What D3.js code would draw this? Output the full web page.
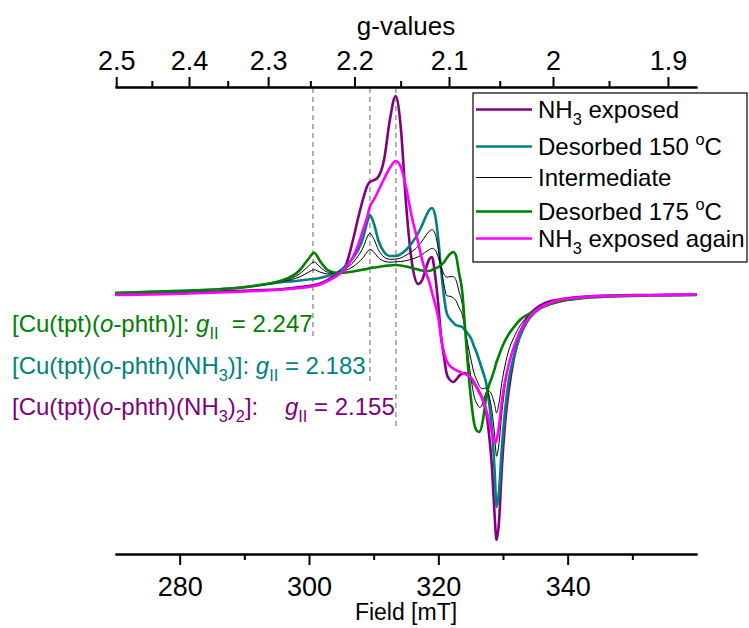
<!DOCTYPE html>
<html><head><meta charset="utf-8">
<script src="https://cdn.jsdelivr.net/npm/d3@7/dist/d3.min.js"></script>
<style>
body{margin:0;background:#fff;}
svg{font-family:Arial,"Liberation Sans",sans-serif;display:block;}
</style></head><body>
<svg id="chart" width="749" height="628"></svg>
<script>
// ---------- DATA ----------
const fields = [270, 279.3, 288.3, 296, 298.6, 299.9, 300.8, 301.7, 302.9, 304.5, 305.7, 306.8, 307.6, 308.4, 309, 309.4, 310.1, 310.7, 311.6, 312.5, 313.4, 314.2, 315, 315.9, 316.9, 317.5, 318.1, 318.6, 319, 319.5, 320, 320.4, 320.9, 321.3, 321.8, 322.3, 322.7, 323.2, 323.7, 324.1, 324.6, 325.1, 325.5, 326, 326.4, 326.9, 327.4, 327.8, 328.3, 328.7, 329, 329.4, 329.8, 330.3, 330.9, 331.7, 332.6, 333.7, 335, 336.5, 338.8, 341.9, 346.5, 352.7, 360];

const nh3Exposed = [1, 2, 4, 6, 8, 9, 10, 11.5, 15, 22, 30, 55, 77, 97, 109, 113, 115, 118, 135, 175, 199, 167, 92, 33, 11, 15, 27, 36, 38, 20, -10, -40, -63, -79, -85, -87, -85, -81, -78.5, -78, -80, -84, -88, -93, -98, -105, -117, -137, -173, -220, -245, -225, -175, -130, -95, -63, -40, -23, -14, -8, -4.5, -2, -0.5, 0, 0.5];

const desorbed150 = [2, 4, 6.7, 13, 14.5, 15.5, 16, 17, 19, 23, 29, 37, 45, 58, 73, 80, 70, 55, 43, 39, 39, 41, 45, 52, 62, 70, 79, 85, 87, 80, 55, 27, -3, -18, -24, -27.5, -30, -31, -32, -35, -39, -44, -51, -59, -67, -77, -88, -105, -135, -175, -212, -195, -155, -117, -85, -61, -42, -27, -17, -10.5, -6, -3, -1, -0.3, 0.3];

const intermediateA = [2, 4, 6.7, 14.3, 21.3, 28.8, 33.1, 28, 22.9, 22.4, 24.8, 28.2, 32.4, 37.6, 43.2, 45.6, 42.4, 37.5, 33.9, 32.8, 33.2, 33.5, 34.3, 35.8, 38.3, 40.4, 43.3, 45.4, 46.7, 45.2, 37.5, 29, 20.4, 17.8, 18.3, 18.3, 15.5, 3.5, -9.3, -31.8, -61.1, -85, -100.4, -109, -112.5, -108.2, -97.1, -95.9, -100.6, -109.4, -117.8, -107.3, -88.7, -70.9, -55.1, -42.2, -31, -22.5, -16, -10.8, -6.3, -3.3, -1.3, -0.4, 0.1];

const intermediateB = [2, 4, 6.7, 13.7, 18.2, 22.7, 25.2, 23, 21.1, 22.7, 26.7, 32.3, 39.1, 47.9, 57.9, 61.6, 55.1, 45.6, 38.1, 35.7, 35.9, 37, 39.8, 43.3, 49, 54.1, 59.8, 63.7, 65.3, 61.3, 45.6, 28, 9.6, -0.8, -1.3, -2.8, -5.5, -12.5, -19.8, -33.3, -50.9, -66.1, -77.6, -85.9, -91.5, -93.8, -92.9, -100.1, -116.5, -139.7, -161.3, -147.3, -119.3, -92.2, -68.9, -50.9, -36, -24.6, -16.5, -10.7, -6.2, -3.2, -1.2, -0.4, 0.2];

const desorbed175 = [2, 4, 6.7, 15, 25, 36, 42.3, 34, 25, 22, 22.5, 23.5, 24.5, 25.5, 26, 27, 27.5, 28, 29, 29.5, 30, 29.5, 28.5, 27, 25.5, 24.5, 24, 24, 25, 26.5, 28, 30, 33, 37, 41, 43, 40, 22, 3, -30, -73, -107, -127, -136, -137, -125, -102, -91, -82, -74, -67, -60, -53, -46, -39, -32, -25, -20, -15.5, -11, -6.5, -3.5, -1.5, -0.5, 0];

const nh3ExposedAgain = [0, 1, 3, 5.5, 7, 8, 9, 10.5, 14, 20, 27, 38, 50, 66, 78, 88, 96, 104, 116, 127, 134, 128, 108, 78, 52, 35, 22, 13, 3, -9, -23, -42, -58, -66, -71, -73.5, -75, -76.5, -78, -79, -80.5, -83, -87, -93, -98, -105, -115, -125, -138, -148, -145, -130, -107, -87, -69, -52, -37, -25, -16, -10, -5, -2.5, -1, -0.3, 0.5];

const seriesNames = ["NH3 exposed", "Desorbed 150 °C", "Intermediate", "Intermediate", "Desorbed 175 °C", "NH3 exposed again"];
const seriesColors = ["#800080", "#008080", "#000000", "#000000", "#008000", "#ff00ff"];

const fieldTicks = [280, 300, 320, 340];
const fieldMinorTicks = [290, 310, 330, 350];
const gTicks = [2.5, 2.4, 2.3, 2.2, 2.1, 2.0, 1.9];
const gTickLabels = ["2.5", "2.4", "2.3", "2.2", "2.1", "2", "1.9"];
const gMinorTicks = [2.45, 2.35, 2.25, 2.15, 2.05, 1.95];
const mwFrequencyGHz = 9.454;
const gParallel = [2.247, 2.183, 2.155];
const gParallelLabels = ["2.247", "2.183", "2.155"];

// ---------- CHART ----------
const C = 71.4477 * mwFrequencyGHz; // B[mT] = C / g
const svg = d3.select("#chart");
const x = d3.scaleLinear().domain([270, 360]).range([115, 697]);
const y = d3.scaleLinear().domain([-260, 210]).range([555, 85]);
const FONT = "Arial, 'Liberation Sans', sans-serif";

// dashed g-marker lines
const markerEnds = [336, 382, 430];
const markerColors = ["#008000", "#008080", "#800080"];
svg.append("g").selectAll("line").data(gParallel).join("line")
  .attr("x1", g => x(C / g)).attr("x2", g => x(C / g))
  .attr("y1", 88).attr("y2", (g, i) => markerEnds[i])
  .attr("stroke", "#808080").attr("stroke-width", 1.2)
  .attr("stroke-dasharray", "5,4");

// series
const series = [nh3Exposed, desorbed150, intermediateA, intermediateB, desorbed175, nh3ExposedAgain];
const widths = [2.6, 2.6, 1, 1, 2.6, 2.6];
const line = d3.line().x((d, i) => x(fields[i])).y(d => y(d)).curve(d3.curveMonotoneX);
svg.append("g").selectAll("path").data(series).join("path")
  .attr("d", d => line(d))
  .attr("fill", "none")
  .attr("stroke", (d, i) => seriesColors[i])
  .attr("stroke-width", (d, i) => widths[i])
  .attr("stroke-linejoin", "round");

// axes
function styleAxis(g, fs) {
  g.attr("font-family", FONT).attr("font-size", fs);
  g.select(".domain").attr("stroke", "#000").attr("stroke-width", 2);
  g.selectAll(".tick line").attr("stroke", "#000").attr("stroke-width", 2);
  g.selectAll(".tick text").attr("fill", "#000");
}
const bottom = svg.append("g").attr("transform", "translate(0,554)")
  .call(d3.axisBottom(x).tickValues(fieldTicks).tickSizeInner(11).tickSizeOuter(0).tickPadding(12).tickFormat(d3.format("d")));
styleAxis(bottom, 27);
const bottomMinor = svg.append("g").attr("transform", "translate(0,554)")
  .call(d3.axisBottom(x).tickValues(fieldMinorTicks).tickSizeInner(6).tickSizeOuter(0).tickFormat(""));
styleAxis(bottomMinor, 27);

const topAx = svg.append("g").attr("transform", "translate(0,87)")
  .call(d3.axisTop(x).tickValues(gTicks.map(g => C / g)).tickSizeInner(10).tickSizeOuter(0).tickPadding(7)
    .tickFormat((d, i) => gTickLabels[i]));
styleAxis(topAx, 27);
const topMinor = svg.append("g").attr("transform", "translate(0,87)")
  .call(d3.axisTop(x).tickValues(gMinorTicks.map(g => C / g)).tickSizeInner(6).tickSizeOuter(0).tickFormat(""));
styleAxis(topMinor, 27);

// titles
svg.append("text").attr("x", 406).attr("y", 35).attr("text-anchor", "middle")
  .attr("font-family", FONT).attr("font-size", 26).text("g-values");
svg.append("text").attr("x", 406).attr("y", 620).attr("text-anchor", "middle")
  .attr("font-family", FONT).attr("font-size", 23).text("Field [mT]");

// rich text helper
function rich(textSel, parts, fs) {
  let shift = 0;
  parts.forEach(p => {
    const ts = textSel.append("tspan").text(p.t);
    let target = 0, size = fs;
    if (p.sub) { target = fs * 0.3; size = fs * 0.68; }
    if (p.sup) { target = -fs * 0.42; size = fs * 0.68; }
    ts.attr("dy", target - shift).attr("font-size", size);
    if (p.i) ts.attr("font-style", "italic");
    shift = target;
  });
}

// legend
svg.append("rect").attr("x", 473).attr("y", 93).attr("width", 274).attr("height", 169)
  .attr("fill", "#fff").attr("stroke", "#000").attr("stroke-width", 1.2);
const legendRows = [
  { s: 0, base: 118, parts: [{ t: "NH" }, { t: "3", sub: true }, { t: " exposed" }] },
  { s: 1, base: 155, parts: [{ t: "Desorbed 150 " }, { t: "o", sup: true }, { t: "C" }] },
  { s: 2, base: 186, parts: [{ t: "Intermediate" }] },
  { s: 4, base: 220, parts: [{ t: "Desorbed 175 " }, { t: "o", sup: true }, { t: "C" }] },
  { s: 5, base: 247, parts: [{ t: "NH" }, { t: "3", sub: true }, { t: " exposed again" }] }
];
const lg = svg.append("g");
legendRows.forEach(r => {
  lg.append("line").attr("x1", 476).attr("x2", 532).attr("y1", r.base - 8.5).attr("y2", r.base - 8.5)
    .attr("stroke", seriesColors[r.s]).attr("stroke-width", widths[r.s]);
  const t = lg.append("text").attr("x", 538).attr("y", r.base).attr("font-family", FONT).attr("font-size", 24).attr("fill", "#000");
  rich(t, r.parts, 24);
});

// annotations
const annRows = [
  { base: 332, color: markerColors[0], parts: [{ t: "[Cu(tpt)(" }, { t: "o", i: true }, { t: "-phth)]: " }, { t: "g", i: true }, { t: "II", sub: true }, { t: "\u00a0 = " + gParallelLabels[0] }] },
  { base: 374, color: markerColors[1], parts: [{ t: "[Cu(tpt)(" }, { t: "o", i: true }, { t: "-phth)(NH" }, { t: "3", sub: true }, { t: ")]: " }, { t: "g", i: true }, { t: "II", sub: true }, { t: " = " + gParallelLabels[1] }] },
  { base: 415, color: markerColors[2], parts: [{ t: "[Cu(tpt)(" }, { t: "o", i: true }, { t: "-phth)(NH" }, { t: "3", sub: true }, { t: ")" }, { t: "2", sub: true }, { t: "]:\u00a0\u00a0\u00a0 " }, { t: "g", i: true }, { t: "II", sub: true }, { t: " = " + gParallelLabels[2] }] }
];
annRows.forEach(r => {
  const t = svg.append("text").attr("x", 12).attr("y", r.base).attr("font-family", FONT)
    .attr("font-size", 24).attr("fill", r.color);
  rich(t, r.parts, 24);
});
</script>
</body></html>
